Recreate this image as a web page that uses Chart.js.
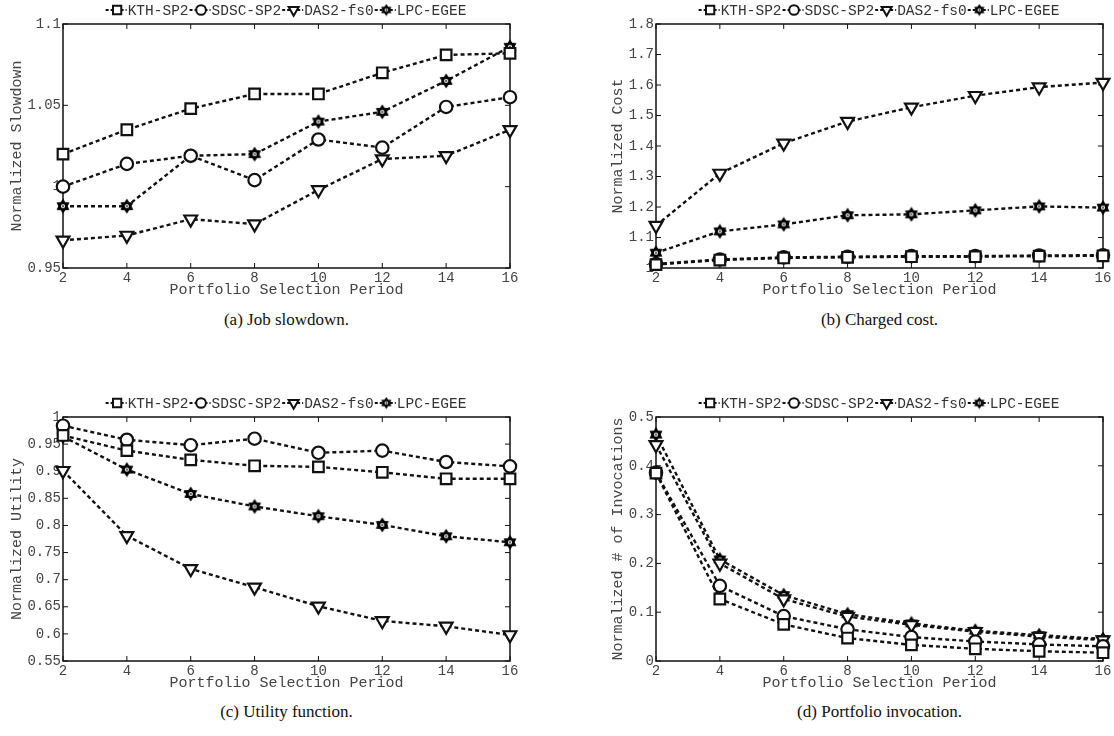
<!DOCTYPE html>
<html>
<head>
<meta charset="utf-8">
<script src="https://cdn.jsdelivr.net/npm/chart.js@4/dist/chart.umd.min.js"></script>
<style>
  body { margin: 0; background: #fff; }
  #page { position: relative; width: 1114px; height: 736px; }
  canvas { position: absolute; }
  .cap { position: absolute; width: 447px; text-align: center;
         font-family: "Liberation Serif", "DejaVu Serif", serif; font-size: 17px; color: #111; }
</style>
</head>
<body>
<div id="page">
  <canvas id="slow" width="557" height="300" style="left:0;top:0"></canvas>
  <canvas id="cost" width="557" height="300" style="left:557px;top:0"></canvas>
  <canvas id="util" width="557" height="300" style="left:0;top:393px"></canvas>
  <canvas id="invo" width="557" height="300" style="left:557px;top:393px"></canvas>
  <div class="cap" style="left:63px;top:310px">(a) Job slowdown.</div>
  <div class="cap" style="left:656px;top:310px">(b) Charged cost.</div>
  <div class="cap" style="left:63px;top:702px">(c) Utility function.</div>
  <div class="cap" style="left:656px;top:702px">(d) Portfolio invocation.</div>
</div>
<script>
const periods = [2, 4, 6, 8, 10, 12, 14, 16]
const traces = ['KTH-SP2', 'SDSC-SP2', 'DAS2-fs0', 'LPC-EGEE']

// (a) job slowdown
const slowKTH  = [1.020, 1.035, 1.048, 1.057, 1.057, 1.070, 1.081, 1.082]
const slowSDSC = [1.000, 1.014, 1.019, 1.004, 1.029, 1.024, 1.049, 1.055]
const slowDAS2 = [0.967, 0.970, 0.980, 0.977, 0.998, 1.017, 1.019, 1.035]
const slowLPC  = [0.988, 0.988, 1.019, 1.020, 1.040, 1.046, 1.065, 1.086]

// (b) charged cost
const costKTH  = [1.011, 1.026, 1.033, 1.035, 1.037, 1.037, 1.039, 1.040]
const costSDSC = [1.013, 1.028, 1.035, 1.037, 1.039, 1.039, 1.041, 1.042]
const costDAS2 = [1.139, 1.310, 1.409, 1.480, 1.527, 1.565, 1.593, 1.608]
const costLPC  = [1.050, 1.120, 1.143, 1.173, 1.176, 1.189, 1.202, 1.198]

// (c) utility function
const utilKTH  = [0.966, 0.938, 0.921, 0.910, 0.908, 0.898, 0.886, 0.886]
const utilSDSC = [0.984, 0.958, 0.948, 0.960, 0.934, 0.938, 0.917, 0.909]
const utilDAS2 = [0.901, 0.781, 0.720, 0.686, 0.651, 0.624, 0.614, 0.598]
const utilLPC  = [0.964, 0.903, 0.858, 0.835, 0.817, 0.801, 0.780, 0.769]

// (d) portfolio invocation
const invoKTH  = [0.385, 0.127, 0.075, 0.047, 0.033, 0.025, 0.020, 0.017]
const invoSDSC = [0.386, 0.154, 0.092, 0.065, 0.049, 0.040, 0.034, 0.030]
const invoDAS2 = [0.443, 0.200, 0.127, 0.091, 0.074, 0.060, 0.050, 0.043]
const invoLPC  = [0.464, 0.208, 0.135, 0.096, 0.077, 0.062, 0.053, 0.045]

const MONO = '"Liberation Mono", "DejaVu Sans Mono", monospace'

// hexagram marker for LPC-EGEE (dark star with a tiny light centre)
function hexagram(size) {
    let c = document.createElement('canvas')
    c.width = size; c.height = size
    let g = c.getContext('2d')
    let r = size / 2 - 0.5, cx = size / 2, cy = size / 2
    g.fillStyle = '#000'
    g.beginPath()
    for (let i = 0; i < 12; i++) {
        let a = -Math.PI / 2 + i * Math.PI / 6
        let rr = i % 2 === 0 ? r : r * 0.62
        let px = cx + rr * Math.cos(a), py = cy + rr * Math.sin(a)
        if (i === 0) g.moveTo(px, py); else g.lineTo(px, py)
    }
    g.closePath()
    g.fill()
    g.fillStyle = '#fff'
    g.beginPath()
    g.arc(cx, cy, r * 0.28, 0, Math.PI * 2)
    g.fill()
    g.fillStyle = '#000'
    g.fillRect(cx - 0.6, cy - 1, 1.2, 2)
    return c
}
const star = hexagram(16)
const starSmall = hexagram(13)

const markers = [
    { pointStyle: 'rect', pointRadius: 7.5, rotation: 0 },
    { pointStyle: 'circle', pointRadius: 6.2, rotation: 0 },
    { pointStyle: 'triangle', pointRadius: 7.4, rotation: 180 },
    { pointStyle: star, pointRadius: 7, rotation: 0 },
]

function drawMarker(ctx, i, x, y, s) {
    let m = markers[i]
    ctx.save()
    ctx.strokeStyle = '#111'
    ctx.fillStyle = '#fff'
    ctx.lineWidth = 2
    ctx.beginPath()
    if (m.pointStyle === 'rect') {
        let h = m.pointRadius * Math.SQRT1_2 * s
        ctx.rect(x - h, y - h, 2 * h, 2 * h)
    } else if (m.pointStyle === 'circle') {
        ctx.arc(x, y, m.pointRadius * s, 0, Math.PI * 2)
    } else if (m.pointStyle === 'triangle') {
        let r = m.pointRadius * s
        ctx.moveTo(x, y + r)
        ctx.lineTo(x - r * 0.866, y - r / 2)
        ctx.lineTo(x + r * 0.866, y - r / 2)
        ctx.closePath()
    } else {
        ctx.drawImage(starSmall, x - starSmall.width / 2, y - starSmall.height / 2)
        ctx.restore()
        return
    }
    ctx.fill()
    ctx.stroke()
    ctx.restore()
}

// legend with "-marker-" symbols, centred over the plot area
const lineLegend = {
    id: 'lineLegend',
    afterDraw(chart) {
        let ctx = chart.ctx
        let a = chart.chartArea
        ctx.save()
        ctx.font = '14.5px ' + MONO
        let sym = 21
        let widths = traces.map(t => ctx.measureText(t).width)
        let total = widths.reduce((s, w) => s + w + sym + 2, 0)
        let x = (a.left + a.right) / 2 - total / 2
        let y = a.top - 14
        traces.forEach((t, i) => {
            ctx.strokeStyle = '#111'
            ctx.lineWidth = 2
            ctx.setLineDash([3, 2])
            ctx.beginPath()
            ctx.moveTo(x, y)
            ctx.lineTo(x + sym, y)
            ctx.stroke()
            ctx.setLineDash([])
            drawMarker(ctx, i, x + sym / 2 + 1, y, 0.78)
            ctx.fillStyle = '#333'
            ctx.textBaseline = 'middle'
            ctx.fillText(t, x + sym + 1, y + 1)
            x += sym + 2 + widths[i]
        })
        ctx.restore()
    }
}

// MATLAB style box with inward ticks on all four sides
const boxTicks = {
    id: 'boxTicks',
    beforeDatasetsDraw(chart) {
        let ctx = chart.ctx
        let a = chart.chartArea
        let xs = chart.scales.x, ys = chart.scales.y
        ctx.save()
        ctx.strokeStyle = '#111'
        ctx.lineWidth = 1.5
        ctx.strokeRect(a.left, a.top, a.right - a.left, a.bottom - a.top)
        ctx.lineWidth = 1
        ctx.beginPath()
        xs.ticks.forEach(t => {
            let px = xs.getPixelForValue(t.value)
            ctx.moveTo(px, a.bottom); ctx.lineTo(px, a.bottom - 5)
            ctx.moveTo(px, a.top); ctx.lineTo(px, a.top + 5)
        })
        ys.ticks.forEach(t => {
            let py = ys.getPixelForValue(t.value)
            ctx.moveTo(a.left, py); ctx.lineTo(a.left + 5, py)
            ctx.moveTo(a.right, py); ctx.lineTo(a.right - 5, py)
        })
        ctx.stroke()
        ctx.restore()
    }
}

function makeChart(id, series, yMin, yMax, step, yTitle, axisWidth, titlePad, rightPad) {
    let datasets = series.map((vals, i) => ({
        label: traces[i],
        data: periods.map((p, k) => ({ x: p, y: vals[k] })),
        borderColor: '#111',
        borderWidth: 2.4,
        borderDash: [4, 3],
        backgroundColor: '#fff',
        pointBackgroundColor: '#fff',
        pointBorderColor: '#111',
        pointBorderWidth: 2.2,
        pointStyle: markers[i].pointStyle,
        pointRadius: markers[i].pointRadius,
        pointRotation: markers[i].rotation,
        tension: 0,
        clip: false,
    }))
    return new Chart(document.getElementById(id), {
        type: 'line',
        data: { datasets: datasets },
        plugins: [boxTicks, lineLegend],
        options: {
            responsive: false,
            animation: false,
            devicePixelRatio: 1,
            layout: { padding: { top: 24, right: rightPad, bottom: 0, left: 0 } },
            plugins: { legend: { display: false }, tooltip: { enabled: false } },
            scales: {
                x: {
                    type: 'linear',
                    min: 2,
                    max: 16,
                    grid: { display: false, drawTicks: false },
                    border: { display: false },
                    ticks: { stepSize: 2, padding: 2, color: '#444', font: { family: MONO, size: 14 } },
                    title: {
                        display: true, text: 'Portfolio Selection Period', color: '#444',
                        font: { family: MONO, size: 15, lineHeight: 1.2 }, padding: { top: 0, bottom: 1 }
                    },
                    afterFit: s => { s.height = 32 }
                },
                y: {
                    min: yMin,
                    max: yMax,
                    grid: { display: false, drawTicks: false },
                    border: { display: false },
                    ticks: {
                        stepSize: step, padding: 2, color: '#444', font: { family: MONO, size: 14 },
                        callback: v => String(Number(v.toFixed(2)))
                    },
                    title: {
                        display: true, text: yTitle, color: '#444',
                        font: { family: MONO, size: 15, lineHeight: 1.2 }, padding: { top: titlePad, bottom: 0 }
                    },
                    afterFit: s => { s.width = axisWidth }
                }
            }
        }
    })
}

makeChart('slow', [slowKTH, slowSDSC, slowDAS2, slowLPC], 0.95, 1.1, 0.05, 'Normalized Slowdown', 63, 8, 47)
makeChart('cost', [costKTH, costSDSC, costDAS2, costLPC], 1, 1.8, 0.1, 'Normalized Cost', 99, 52, 11)
makeChart('util', [utilKTH, utilSDSC, utilDAS2, utilLPC], 0.55, 1, 0.05, 'Normalized Utility', 63, 8, 47)
makeChart('invo', [invoKTH, invoSDSC, invoDAS2, invoLPC], 0, 0.5, 0.1, 'Normalized # of Invocations', 99, 52, 11)
</script>
</body>
</html>
